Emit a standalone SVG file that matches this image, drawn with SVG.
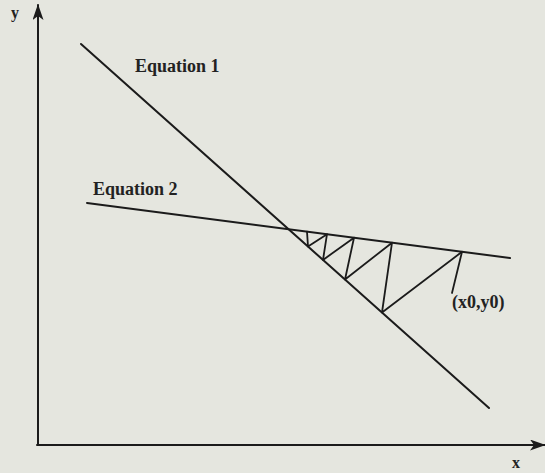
<svg xmlns="http://www.w3.org/2000/svg" width="545" height="473" viewBox="0 0 545 473">
  <style>
    .ln { stroke: #1b1b1b; stroke-width: 2; fill: none; stroke-linecap: round; stroke-linejoin: round; }
    .thin { stroke: #1b1b1b; stroke-width: 1.8; fill: none; stroke-linecap: round; stroke-linejoin: round; }
    .lbl { font-family: "Liberation Serif", "Times New Roman", serif; font-size: 18px; font-weight: bold; fill: #222; }
    .ax { font-family: "Liberation Serif", "Times New Roman", serif; font-size: 16px; font-weight: bold; fill: #222; }
  </style>
  <defs>
    <marker id="arr" viewBox="0 0 16 11" refX="15" refY="5.5" markerWidth="16" markerHeight="11" markerUnits="userSpaceOnUse" orient="auto">
      <path d="M0,0 L16,5.5 L0,11 L4,5.5 Z" fill="#1b1b1b"/>
    </marker>
  </defs>
  <rect width="545" height="473" fill="#e5e6df"/>
  <g id="axes">
    <line class="ln" x1="38" y1="445" x2="38" y2="5" marker-end="url(#arr)"/>
    <line class="ln" x1="37" y1="445" x2="545" y2="445" marker-end="url(#arr)"/>
    <text class="ax" x="11" y="18">y</text>
    <text class="ax" x="512" y="468">x</text>
  </g>
  <g id="connectors">
    <line id="equation1-line" class="ln" x1="81" y1="44" x2="489" y2="408"/>
    <line id="equation2-line" class="ln" x1="87" y1="203" x2="510" y2="258"/>
    <polyline id="cobweb" class="thin" points="462,251.8 382,312.5 392,242.7 345,279.5 354,237.7 323,259.9 327,234.2 308,246.5 307,231.6"/>
    <line id="leader" class="thin" x1="462" y1="251.8" x2="452" y2="293"/>
  </g>
  <g id="equation1">
    <text class="lbl" x="135" y="72">Equation 1</text>
  </g>
  <g id="equation2">
    <text class="lbl" x="93" y="195">Equation 2</text>
  </g>
  <g id="start-point">
    <text class="lbl" x="452" y="308">(x0,y0)</text>
  </g>
</svg>
